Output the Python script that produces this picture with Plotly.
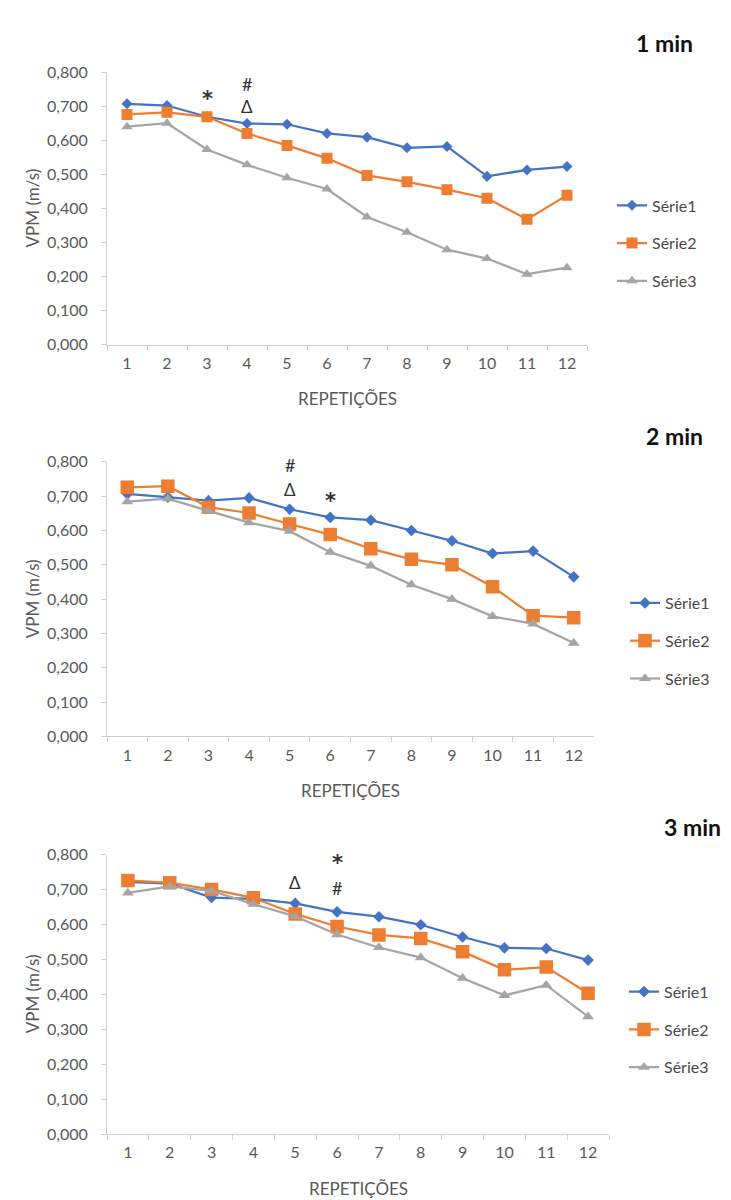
import plotly.graph_objects as go

# ---------------- data ----------------
repeticoes = ["1", "2", "3", "4", "5", "6", "7", "8", "9", "10", "11", "12"]
series_names = ["Série1", "Série2", "Série3"]
panel_titles = ["1 min", "2 min", "3 min"]

p1_serie1 = [0.707, 0.702, 0.669, 0.649, 0.647, 0.620, 0.609, 0.578, 0.582, 0.494, 0.513, 0.523]
p1_serie2 = [0.676, 0.682, 0.669, 0.620, 0.585, 0.547, 0.497, 0.478, 0.455, 0.430, 0.368, 0.439]
p1_serie3 = [0.640, 0.650, 0.573, 0.528, 0.490, 0.457, 0.375, 0.330, 0.279, 0.253, 0.207, 0.226]

p2_serie1 = [0.707, 0.697, 0.687, 0.695, 0.662, 0.638, 0.630, 0.600, 0.570, 0.533, 0.540, 0.465]
p2_serie2 = [0.726, 0.729, 0.668, 0.651, 0.619, 0.588, 0.547, 0.516, 0.500, 0.436, 0.352, 0.346]
p2_serie3 = [0.684, 0.693, 0.657, 0.623, 0.598, 0.537, 0.497, 0.442, 0.400, 0.350, 0.328, 0.272]

p3_serie1 = [0.722, 0.717, 0.677, 0.673, 0.660, 0.636, 0.622, 0.599, 0.564, 0.533, 0.531, 0.498]
p3_serie2 = [0.726, 0.719, 0.700, 0.676, 0.630, 0.594, 0.570, 0.560, 0.522, 0.470, 0.478, 0.403]
p3_serie3 = [0.690, 0.709, 0.696, 0.658, 0.623, 0.571, 0.534, 0.505, 0.446, 0.397, 0.426, 0.336]

# significance marks: (symbol, category index, value)
p1_marks = [("*", 2, 0.735), ("#", 3, 0.766), ("Δ", 3, 0.700)]
p2_marks = [("#", 4, 0.792), ("Δ", 4, 0.720), ("*", 5, 0.700)]
p3_marks = [("Δ", 4, 0.719), ("*", 5, 0.790), ("#", 5, 0.703)]

y_tickvals = [0.0, 0.1, 0.2, 0.3, 0.4, 0.5, 0.6, 0.7, 0.8]

panels = [
    [p1_serie1, p1_serie2, p1_serie3],
    [p2_serie1, p2_serie2, p2_serie3],
    [p3_serie1, p3_serie2, p3_serie3],
]
marks = [p1_marks, p2_marks, p3_marks]

# ---------------- style ----------------
W, H = 731, 1200
FONT = "Lato, 'Open Sans', sans-serif"
TICK_COLOR = "#595959"
AXIS_COLOR = "#d0d0d0"
colors = ["#4472C4", "#ED7D31", "#A5A5A5"]
symbols = ["diamond", "square", "triangle-up"]
msizes = [[8.5, 11, 10], [9, 13.5, 10.5], [9, 13.5, 10.5]]

# pixel layout of each panel: (x_left, x_right, y_top(0.8), y_bottom(0))
geom = [
    (99, 579, 55, 332),
    (99, 586, 451, 730),
    (99, 601, 850, 1134),
]
legend_pos = [(604, 229), (617, 633), (616, 1028)]
title_pos = [(656, 25), (666, 425), (684, 822)]

mark_fonts = {
    "*": dict(size=21, family="'DejaVu Sans', sans-serif", yshift=-5, bold=True),
    "#": dict(size=18, family=FONT, yshift=0, bold=False),
    "Δ": dict(size=17, family=FONT, yshift=0, bold=False),
}


def px_x(x):
    return x / W


def px_y(y):
    return 1 - y / H


fig = go.Figure()
layout = dict(
    width=W, height=H, autosize=False,
    margin=dict(l=0, r=0, t=0, b=0),
    paper_bgcolor="white", plot_bgcolor="white",
    font=dict(family=FONT, color=TICK_COLOR, size=16),
    separators=",.",
    annotations=[],
)

for p in range(3):
    xl, xr, yt, yb = geom[p]
    ax = "" if p == 0 else str(p + 1)
    leg = "legend" if p == 0 else "legend" + str(p + 1)
    for s in range(3):
        fig.add_trace(go.Scatter(
            x=repeticoes, y=panels[p][s], name=series_names[s],
            mode="lines+markers",
            line=dict(color=colors[s], width=2.25),
            marker=dict(symbol=symbols[s], size=msizes[p][s], color=colors[s]),
            xaxis="x" + ax, yaxis="y" + ax, legend=leg,
            legendgroup=f"p{p}s{s}",
        ))
    layout["xaxis" + ax] = dict(
        domain=[px_x(xl), px_x(xr)], anchor="y" + ax,
        type="category", range=[-0.5, 11.5],
        tickson="boundaries", ticks="outside", ticklen=5, tickcolor=AXIS_COLOR,
        showline=True, linecolor=AXIS_COLOR, linewidth=1,
        showgrid=False, zeroline=False,
        tickfont=dict(size=16, color=TICK_COLOR),
        ticklabelstandoff=4,
    )
    layout["yaxis" + ax] = dict(
        domain=[px_y(yb), px_y(yt)], anchor="x" + ax,
        range=[0, 0.8], tickvals=y_tickvals, tickformat=".3f",
        ticks="outside", ticklen=5, tickcolor=AXIS_COLOR,
        showline=True, linecolor=AXIS_COLOR, linewidth=1,
        showgrid=False, zeroline=False,
        tickfont=dict(size=16, color=TICK_COLOR),
        ticklabelstandoff=10,
    )
    lx, ly = legend_pos[p]
    layout[leg] = dict(
        x=px_x(lx), y=px_y(ly), xanchor="left", yanchor="middle",
        xref="paper", yref="paper",
        bgcolor="rgba(0,0,0,0)", borderwidth=0,
        font=dict(size=16, color="#4a4a4a", family=FONT),
        tracegroupgap=14, itemwidth=30,
    )
    # panel title
    tx, ty = title_pos[p]
    layout["annotations"].append(dict(
        text="<b>" + panel_titles[p] + "</b>", x=px_x(tx), y=px_y(ty),
        xref="paper", yref="paper", showarrow=False,
        xanchor="center", yanchor="middle",
        font=dict(size=23, color="#111111", family=FONT),
    ))
    # axis titles
    layout["annotations"].append(dict(
        text="REPETIÇÕES", x=px_x((xl + xr) / 2), y=px_y(yb + 55),
        xref="paper", yref="paper", showarrow=False,
        xanchor="center", yanchor="middle",
        font=dict(size=17, color=TICK_COLOR, family=FONT),
    ))
    layout["annotations"].append(dict(
        text="VPM (m/s)", x=px_x(24), y=px_y((yt + yb) / 2),
        xref="paper", yref="paper", showarrow=False, textangle=-90,
        xanchor="center", yanchor="middle",
        font=dict(size=17, color=TICK_COLOR, family=FONT),
    ))
    # significance marks
    for sym, ci, val in marks[p]:
        mf = mark_fonts[sym]
        layout["annotations"].append(dict(
            text=("<b>" + sym + "</b>") if mf["bold"] else sym,
            x=ci, y=val, xref="x" + ax, yref="y" + ax,
            showarrow=False, xanchor="center", yanchor="middle",
            yshift=mf["yshift"],
            font=dict(size=mf["size"], color="#333333", family=mf["family"]),
        ))

fig.update_layout(**layout)
fig.write_html("out.html")
